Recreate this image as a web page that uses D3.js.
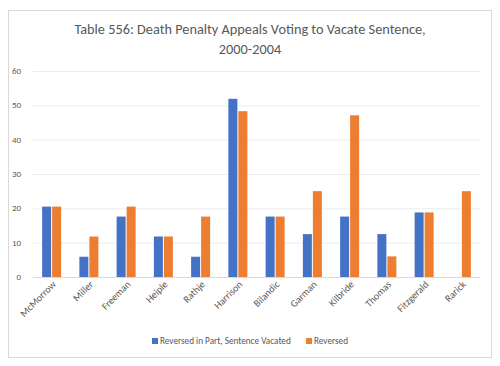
<!DOCTYPE html>
<html>
<head>
<meta charset="utf-8">
<script src="https://cdn.jsdelivr.net/npm/d3@7"></script>
<style>
  body { margin: 0; background: #fff; }
  svg { display: block; font-family: Calibri, "Carlito", "Open Sans", sans-serif; }
</style>
</head>
<body>
<script>
var judges = ["McMorrow", "Miller", "Freeman", "Heiple", "Rathje", "Harrison", "Bilandic", "Garman", "Kilbride", "Thomas", "Fitzgerald", "Rarick"];
var partVacated = [20.5, 5.9, 17.6, 11.8, 5.9, 51.9, 17.6, 12.5, 17.6, 12.5, 18.8, 0];
var reversed = [20.5, 11.8, 20.5, 11.8, 17.6, 48.3, 17.6, 25.0, 47.1, 6.0, 18.8, 25.0];
var seriesNames = ["Reversed in Part, Sentence Vacated", "Reversed"];
var seriesColors = ["#4472C4", "#ED7D31"];
var yTicks = [0, 10, 20, 30, 40, 50, 60];

var width = 500, height = 366;
var margin = {top: 71, right: 20, bottom: 89, left: 33};

var svg = d3.select("body").append("svg")
    .attr("width", width)
    .attr("height", height);

// chart border
svg.append("rect")
    .attr("x", 8.5).attr("y", 10.5)
    .attr("width", 483).attr("height", 347)
    .attr("fill", "#fff")
    .attr("stroke", "#d9d9d9");

svg.append("text")
    .attr("x", 250).attr("y", 34)
    .attr("text-anchor", "middle")
    .attr("font-size", "14.3px")
    .attr("fill", "#595959")
    .text("Table 556: Death Penalty Appeals Voting to Vacate Sentence,");
svg.append("text")
    .attr("x", 250).attr("y", 54)
    .attr("text-anchor", "middle")
    .attr("font-size", "14.3px")
    .attr("fill", "#595959")
    .text("2000-2004");

var x = d3.scaleBand()
    .domain(judges)
    .range([margin.left, width - margin.right]);

var x1 = d3.scaleBand()
    .domain([0, 1])
    .range([0, 19])
    .paddingInner(0.1);

var y = d3.scaleLinear()
    .domain([0, 60])
    .range([height - margin.bottom, margin.top]);

var g = svg.append("g");

// gridlines
g.selectAll(".grid")
    .data(yTicks)
    .enter().append("line")
    .attr("x1", margin.left)
    .attr("x2", width - margin.right)
    .attr("y1", function(d){ return y(d) + 0.5; })
    .attr("y2", function(d){ return y(d) + 0.5; })
    .attr("stroke", function(d){ return d === 0 ? "#d9d9d9" : "#ececec"; });

// y labels
g.selectAll(".ylab")
    .data(yTicks)
    .enter().append("text")
    .attr("x", 21)
    .attr("y", function(d){ return y(d) + 3; })
    .attr("text-anchor", "end")
    .attr("font-size", "9px")
    .attr("fill", "#595959")
    .text(function(d){ return d; });

var groups = g.selectAll(".group")
    .data(judges)
    .enter().append("g")
    .attr("transform", function(d){
        return "translate(" + (x(d) + x.bandwidth() / 2 - 9.5) + ",0)";
    });

groups.selectAll("rect")
    .data(function(d, i){ return [partVacated[i], reversed[i]]; })
    .enter().append("rect")
    .attr("x", function(d, j){ return x1(j); })
    .attr("width", x1.bandwidth())
    .attr("y", function(d){ return y(d); })
    .attr("height", function(d){ return y(0) - y(d); })
    .attr("fill", function(d, j){ return seriesColors[j]; });

// category labels
g.selectAll(".xlab")
    .data(judges)
    .enter().append("text")
    .attr("transform", function(d){
        return "translate(" + (x(d) + x.bandwidth() / 2 + 5) + "," + (y(0) + 8) + ") rotate(-45)";
    })
    .attr("text-anchor", "end")
    .attr("font-size", "10px")
    .attr("fill", "#595959")
    .text(function(d){ return d; });

// legend
var legend = svg.append("g").attr("transform", "translate(152,344)");
var legendX = [0, 154];
seriesNames.forEach(function(name, i){
    legend.append("rect")
        .attr("x", legendX[i]).attr("y", -6)
        .attr("width", 6).attr("height", 6)
        .attr("fill", seriesColors[i]);
    legend.append("text")
        .attr("x", legendX[i] + 8).attr("y", 0)
        .attr("font-size", "9.2px")
        .attr("fill", "#595959")
        .text(name);
});
</script>
</body>
</html>
